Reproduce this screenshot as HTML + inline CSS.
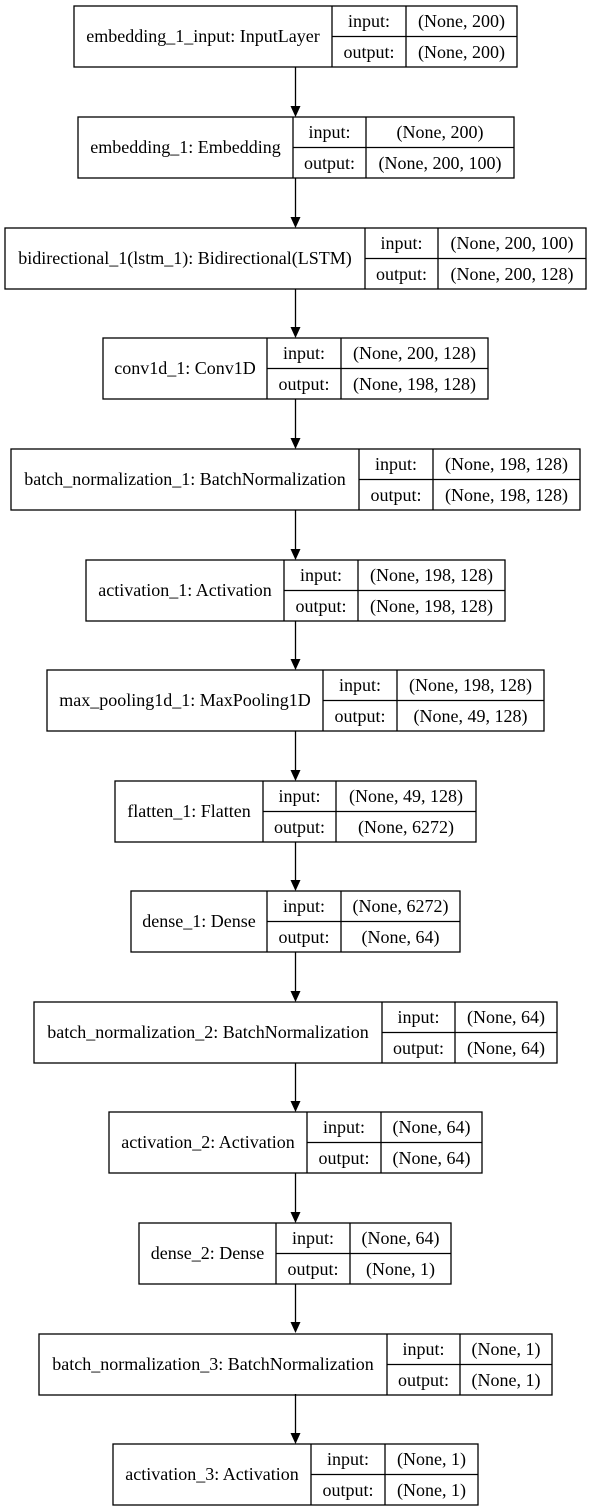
<!DOCTYPE html>
<html><head><meta charset="utf-8"><style>
html,body{margin:0;padding:0;background:#fff;}
svg{display:block;}
text{font-family:"Liberation Serif","Times New Roman",serif;font-size:18px;fill:#000;text-anchor:middle;}
rect,line{stroke:#000;stroke-width:1.3;fill:none;}
</style></head><body>
<svg width="589" height="1512" viewBox="0 0 589 1512" xmlns="http://www.w3.org/2000/svg">
<g id="arrows">
<line x1="295.5" y1="67" x2="295.5" y2="107"/><polygon points="290.5,106 300.5,106 295.5,117"/>
<line x1="295.5" y1="178" x2="295.5" y2="218"/><polygon points="290.5,217 300.5,217 295.5,228"/>
<line x1="295.5" y1="289" x2="295.5" y2="328"/><polygon points="290.5,327 300.5,327 295.5,338"/>
<line x1="295.5" y1="399" x2="295.5" y2="439"/><polygon points="290.5,438 300.5,438 295.5,449"/>
<line x1="295.5" y1="510" x2="295.5" y2="550"/><polygon points="290.5,549 300.5,549 295.5,560"/>
<line x1="295.5" y1="621" x2="295.5" y2="660"/><polygon points="290.5,659 300.5,659 295.5,670"/>
<line x1="295.5" y1="731" x2="295.5" y2="771"/><polygon points="290.5,770 300.5,770 295.5,781"/>
<line x1="295.5" y1="842" x2="295.5" y2="881"/><polygon points="290.5,880 300.5,880 295.5,891"/>
<line x1="295.5" y1="952" x2="295.5" y2="992"/><polygon points="290.5,991 300.5,991 295.5,1002"/>
<line x1="295.5" y1="1063" x2="295.5" y2="1102"/><polygon points="290.5,1101 300.5,1101 295.5,1112"/>
<line x1="295.5" y1="1173" x2="295.5" y2="1213"/><polygon points="290.5,1212 300.5,1212 295.5,1223"/>
<line x1="295.5" y1="1284" x2="295.5" y2="1323"/><polygon points="290.5,1322 300.5,1322 295.5,1333"/>
<line x1="295.5" y1="1394" x2="295.5" y2="1434"/><polygon points="290.5,1433 300.5,1433 295.5,1444"/>
</g>

<g transform="translate(0,6)">
<rect x="74" y="0" width="443" height="61"/><line x1="332" y1="0" x2="332" y2="61"/><line x1="406" y1="0" x2="406" y2="61"/><line x1="332" y1="30.5" x2="517" y2="30.5"/>
<text x="203" y="36">embedding_1_input: InputLayer</text><text x="369" y="21">input:</text><text x="369" y="52">output:</text><text x="461.5" y="21">(None, 200)</text><text x="461.5" y="52">(None, 200)</text>
</g>
<g transform="translate(0,117)">
<rect x="78" y="0" width="436" height="61"/><line x1="293" y1="0" x2="293" y2="61"/><line x1="366" y1="0" x2="366" y2="61"/><line x1="293" y1="30.5" x2="514" y2="30.5"/>
<text x="185.5" y="36">embedding_1: Embedding</text><text x="329.5" y="21">input:</text><text x="329.5" y="52">output:</text><text x="440" y="21">(None, 200)</text><text x="440" y="52">(None, 200, 100)</text>
</g>
<g transform="translate(0,228)">
<rect x="5" y="0" width="581" height="61"/><line x1="365" y1="0" x2="365" y2="61"/><line x1="438" y1="0" x2="438" y2="61"/><line x1="365" y1="30.5" x2="586" y2="30.5"/>
<text x="185" y="36">bidirectional_1(lstm_1): Bidirectional(LSTM)</text><text x="401.5" y="21">input:</text><text x="401.5" y="52">output:</text><text x="512" y="21">(None, 200, 100)</text><text x="512" y="52">(None, 200, 128)</text>
</g>
<g transform="translate(0,338)">
<rect x="103" y="0" width="385" height="61"/><line x1="267" y1="0" x2="267" y2="61"/><line x1="341" y1="0" x2="341" y2="61"/><line x1="267" y1="30.5" x2="488" y2="30.5"/>
<text x="185" y="36">conv1d_1: Conv1D</text><text x="304" y="21">input:</text><text x="304" y="52">output:</text><text x="414.5" y="21">(None, 200, 128)</text><text x="414.5" y="52">(None, 198, 128)</text>
</g>
<g transform="translate(0,449)">
<rect x="11" y="0" width="569" height="61"/><line x1="359" y1="0" x2="359" y2="61"/><line x1="433" y1="0" x2="433" y2="61"/><line x1="359" y1="30.5" x2="580" y2="30.5"/>
<text x="185" y="36">batch_normalization_1: BatchNormalization</text><text x="396" y="21">input:</text><text x="396" y="52">output:</text><text x="506.5" y="21">(None, 198, 128)</text><text x="506.5" y="52">(None, 198, 128)</text>
</g>
<g transform="translate(0,560)">
<rect x="86" y="0" width="419" height="61"/><line x1="284" y1="0" x2="284" y2="61"/><line x1="358" y1="0" x2="358" y2="61"/><line x1="284" y1="30.5" x2="505" y2="30.5"/>
<text x="185" y="36">activation_1: Activation</text><text x="321" y="21">input:</text><text x="321" y="52">output:</text><text x="431.5" y="21">(None, 198, 128)</text><text x="431.5" y="52">(None, 198, 128)</text>
</g>
<g transform="translate(0,670)">
<rect x="47" y="0" width="497" height="61"/><line x1="323" y1="0" x2="323" y2="61"/><line x1="397" y1="0" x2="397" y2="61"/><line x1="323" y1="30.5" x2="544" y2="30.5"/>
<text x="185" y="36">max_pooling1d_1: MaxPooling1D</text><text x="360" y="21">input:</text><text x="360" y="52">output:</text><text x="470.5" y="21">(None, 198, 128)</text><text x="470.5" y="52">(None, 49, 128)</text>
</g>
<g transform="translate(0,781)">
<rect x="115" y="0" width="361" height="61"/><line x1="263" y1="0" x2="263" y2="61"/><line x1="336" y1="0" x2="336" y2="61"/><line x1="263" y1="30.5" x2="476" y2="30.5"/>
<text x="189" y="36">flatten_1: Flatten</text><text x="299.5" y="21">input:</text><text x="299.5" y="52">output:</text><text x="406" y="21">(None, 49, 128)</text><text x="406" y="52">(None, 6272)</text>
</g>
<g transform="translate(0,891)">
<rect x="131" y="0" width="329" height="61"/><line x1="267" y1="0" x2="267" y2="61"/><line x1="341" y1="0" x2="341" y2="61"/><line x1="267" y1="30.5" x2="460" y2="30.5"/>
<text x="199" y="36">dense_1: Dense</text><text x="304" y="21">input:</text><text x="304" y="52">output:</text><text x="400.5" y="21">(None, 6272)</text><text x="400.5" y="52">(None, 64)</text>
</g>
<g transform="translate(0,1002)">
<rect x="34" y="0" width="523" height="61"/><line x1="382" y1="0" x2="382" y2="61"/><line x1="455" y1="0" x2="455" y2="61"/><line x1="382" y1="30.5" x2="557" y2="30.5"/>
<text x="208" y="36">batch_normalization_2: BatchNormalization</text><text x="418.5" y="21">input:</text><text x="418.5" y="52">output:</text><text x="506" y="21">(None, 64)</text><text x="506" y="52">(None, 64)</text>
</g>
<g transform="translate(0,1112)">
<rect x="109" y="0" width="373" height="61"/><line x1="307" y1="0" x2="307" y2="61"/><line x1="381" y1="0" x2="381" y2="61"/><line x1="307" y1="30.5" x2="482" y2="30.5"/>
<text x="208" y="36">activation_2: Activation</text><text x="344" y="21">input:</text><text x="344" y="52">output:</text><text x="431.5" y="21">(None, 64)</text><text x="431.5" y="52">(None, 64)</text>
</g>
<g transform="translate(0,1223)">
<rect x="139" y="0" width="312" height="61"/><line x1="276" y1="0" x2="276" y2="61"/><line x1="350" y1="0" x2="350" y2="61"/><line x1="276" y1="30.5" x2="451" y2="30.5"/>
<text x="207.5" y="36">dense_2: Dense</text><text x="313" y="21">input:</text><text x="313" y="52">output:</text><text x="400.5" y="21">(None, 64)</text><text x="400.5" y="52">(None, 1)</text>
</g>
<g transform="translate(0,1334)">
<rect x="39" y="0" width="513" height="61"/><line x1="387" y1="0" x2="387" y2="61"/><line x1="460" y1="0" x2="460" y2="61"/><line x1="387" y1="30.5" x2="552" y2="30.5"/>
<text x="213" y="36">batch_normalization_3: BatchNormalization</text><text x="423.5" y="21">input:</text><text x="423.5" y="52">output:</text><text x="506" y="21">(None, 1)</text><text x="506" y="52">(None, 1)</text>
</g>
<g transform="translate(0,1444)">
<rect x="113" y="0" width="365" height="61"/><line x1="311" y1="0" x2="311" y2="61"/><line x1="385" y1="0" x2="385" y2="61"/><line x1="311" y1="30.5" x2="478" y2="30.5"/>
<text x="212" y="36">activation_3: Activation</text><text x="348" y="21">input:</text><text x="348" y="52">output:</text><text x="431.5" y="21">(None, 1)</text><text x="431.5" y="52">(None, 1)</text>
</g>
</svg>
</body></html>
